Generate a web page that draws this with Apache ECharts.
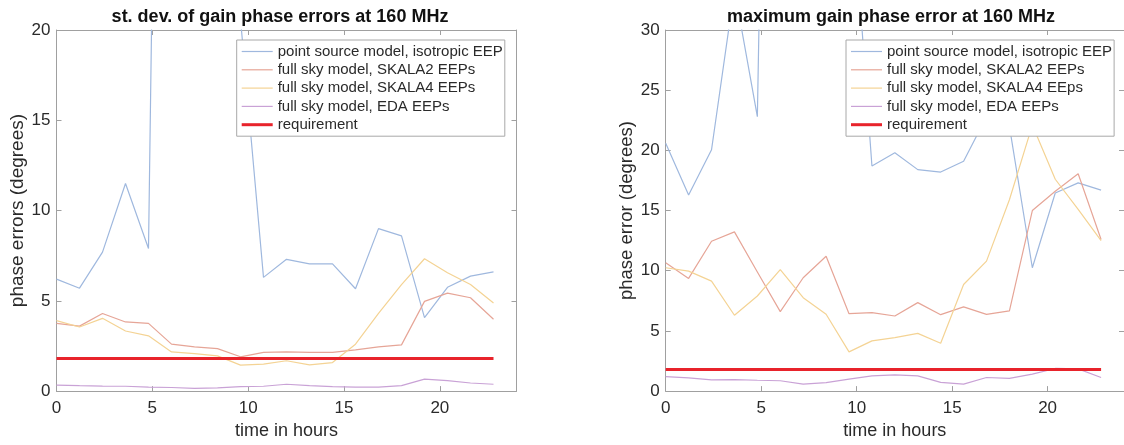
<!DOCTYPE html>
<html>
<head>
<meta charset="utf-8">
<script src="https://cdn.jsdelivr.net/npm/echarts@6/dist/echarts.min.js"></script>
<style>
  html, body { margin: 0; padding: 0; background: #ffffff; }
  #chart { width: 1124px; height: 445px; }
</style>
</head>
<body>
<div id="chart"></div>
<script>
// ---- data ----
const hours = [0, 1.2, 2.4, 3.6, 4.8, 6.0, 7.2, 8.4, 9.6, 10.8, 12.0, 13.2, 14.4, 15.6, 16.8, 18.0, 19.2, 20.4, 21.6, 22.8];

// left panel: st. dev. of gain phase errors (degrees)
const stdPointSource = [6.2, 5.7, 7.7, 11.5, 7.9, 100, 90, 70, 20.6, 6.3, 7.3, 7.05, 7.05, 5.67, 9.0, 8.6, 4.07, 5.75, 6.37, 6.6];
const stdSkala2 = [3.75, 3.6, 4.3, 3.83, 3.75, 2.6, 2.45, 2.35, 1.9, 2.14, 2.17, 2.14, 2.14, 2.28, 2.45, 2.56, 4.97, 5.43, 5.17, 3.98];
const stdSkala4 = [3.9, 3.55, 4.03, 3.33, 3.06, 2.17, 2.08, 1.95, 1.44, 1.49, 1.68, 1.45, 1.58, 2.6, 4.3, 5.9, 7.33, 6.56, 5.9, 4.88];
const stdEda = [0.33, 0.3, 0.28, 0.27, 0.22, 0.2, 0.15, 0.18, 0.25, 0.27, 0.38, 0.3, 0.25, 0.22, 0.22, 0.3, 0.66, 0.58, 0.45, 0.38];

// right panel: maximum gain phase error (degrees)
const maxPointSource = [20.6, 16.3, 20.05, 33.4, 22.8, 130, 100, 80, 45, 18.7, 19.8, 18.4, 18.2, 19.1, 22.8, 22.0, 10.25, 16.46, 17.3, 16.7];
const maxSkala2 = [10.66, 9.36, 12.45, 13.23, 9.9, 6.6, 9.42, 11.2, 6.43, 6.52, 6.24, 7.35, 6.35, 7.0, 6.38, 6.66, 15.0, 16.6, 18.06, 12.6];
const maxSkala4 = [10.25, 9.97, 9.14, 6.3, 7.9, 10.1, 7.76, 6.38, 3.26, 4.17, 4.45, 4.8, 3.98, 8.86, 10.8, 15.9, 22.1, 17.6, 15.1, 12.5];
const maxEda = [1.21, 1.1, 0.94, 0.95, 0.9, 0.86, 0.58, 0.7, 1.0, 1.27, 1.35, 1.27, 0.72, 0.58, 1.13, 1.05, 1.41, 1.88, 1.85, 1.13];

const requirementDeg = 1.8;

const leftNames = ['point source model, isotropic EEP', 'full sky model, SKALA2 EEPs', 'full sky model, SKALA4 EEPs', 'full sky model, EDA EEPs', 'requirement'];
const rightNames = ['point source model, isotropic EEP', 'full sky model, SKALA2 EEPs', 'full sky model, SKALA4 EEps', 'full sky model, EDA EEPs', 'requirement'];

const titles = ['st. dev. of gain phase errors at 160 MHz', 'maximum gain phase error at 160 MHz'];
const yNames = ['phase errors (degrees)', 'phase error (degrees)'];
const xName = 'time in hours';
const xTicks = [0, 24, 5];          // min, max, interval
const yTicksLeft = [0, 20, 5];
const yTicksRight = [0, 30, 5];

// ---- styling ----
const FONT = "'Liberation Sans', Arial, Helvetica, sans-serif";
const colors = ['#9fb8de', '#e6a597', '#f4d394', '#c9a2d6', '#e8232b'];
const axisGray = '#a0a0a0';
const textColor = '#2a2a2a';

const grids = [
  { left: 56.5, top: 30, width: 460, height: 362 },
  { left: 665.7, top: 30, width: 459, height: 362 }
];

function pairs(vals) { return hours.map((h, i) => [h, vals[i]]); }
function reqLine() { return [[hours[0], requirementDeg], [hours[hours.length - 1], requirementDeg]]; }

function xAxes(gi) {
  const base = {
    type: 'value', gridIndex: gi, min: xTicks[0], max: xTicks[1], interval: xTicks[2],
    splitLine: { show: false },
    axisLine: { show: true, onZero: false, lineStyle: { color: axisGray, width: 1 } },
    axisTick: { show: true, inside: true, length: 5, lineStyle: { color: axisGray } }
  };
  return [
    Object.assign({}, base, {
      position: 'bottom',
      name: xName, nameLocation: 'middle', nameGap: 29,
      nameTextStyle: { fontFamily: FONT, fontSize: 18, color: textColor },
      axisLabel: { show: true, fontFamily: FONT, fontSize: 17, color: textColor, margin: 9, showMaxLabel: false }
    }),
    Object.assign({}, base, { position: 'top', axisLabel: { show: false } })
  ];
}

function yAxes(gi, t) {
  const base = {
    type: 'value', gridIndex: gi, min: t[0], max: t[1], interval: t[2],
    splitLine: { show: false },
    axisLine: { show: true, onZero: false, lineStyle: { color: axisGray, width: 1 } },
    axisTick: { show: true, inside: true, length: 5, lineStyle: { color: axisGray } }
  };
  return [
    Object.assign({}, base, {
      position: 'left',
      name: yNames[gi], nameLocation: 'middle', nameGap: 27,
      nameTextStyle: { fontFamily: FONT, fontSize: gi === 0 ? 19 : 18.5, color: textColor },
      axisLabel: { show: true, fontFamily: FONT, fontSize: 17, color: textColor, margin: 6 }
    }),
    Object.assign({}, base, { position: 'right', axisLabel: { show: false } })
  ];
}

function lineSeries(name, data, gi, color, width) {
  return {
    type: 'line', name: name, data: data,
    xAxisIndex: gi * 2, yAxisIndex: gi * 2,
    symbol: 'none', showSymbol: false, clip: true,
    lineStyle: { color: color, width: width },
    itemStyle: { color: color },
    z: width > 2 ? 4 : 3,
    animation: false
  };
}

const leftSets = [stdPointSource, stdSkala2, stdSkala4, stdEda];
const rightSets = [maxPointSource, maxSkala2, maxSkala4, maxEda];

const series = [];
leftSets.forEach((s, i) => series.push(lineSeries(leftNames[i], pairs(s), 0, colors[i], 1.2)));
series.push(lineSeries(leftNames[4], reqLine(), 0, colors[4], 3));
rightSets.forEach((s, i) => series.push(lineSeries(rightNames[i], pairs(s), 1, colors[i], 1.2)));
series.push(lineSeries(rightNames[4], reqLine(), 1, colors[4], 3));

const thinIcon = 'path://M0,0H31V1.2H0Z';
const thickIcon = 'path://M0,0H31V3H0Z';

function legend(left, names) {
  return {
    orient: 'vertical', left: left, top: 40,
    data: names.map((n, i) => ({ name: n, icon: i === 4 ? thickIcon : thinIcon })),
    symbolKeepAspect: true,
    itemWidth: 31, itemHeight: 15, itemGap: 3.3,
    padding: [4, 2, 4, 5],
    backgroundColor: '#ffffff',
    borderColor: '#a8a8a8', borderWidth: 1,
    selectedMode: false,
    itemStyle: { borderWidth: 0 },
    textStyle: { fontFamily: FONT, fontSize: 15, color: textColor, lineHeight: 15 },
    z: 10
  };
}

const option = {
  animation: false,
  backgroundColor: '#ffffff',
  title: [
    { text: titles[0], left: 275, top: 3, textAlign: 'center',
      textStyle: { fontFamily: FONT, fontSize: 18, fontWeight: 'bold', color: '#111' } },
    { text: titles[1], left: 886, top: 3, textAlign: 'center',
      textStyle: { fontFamily: FONT, fontSize: 18, fontWeight: 'bold', color: '#111' } }
  ],
  grid: grids,
  xAxis: xAxes(0).concat(xAxes(1)),
  yAxis: yAxes(0, yTicksLeft).concat(yAxes(1, yTicksRight)),
  legend: [legend(236.7, leftNames), legend(846, rightNames)],
  series: series
};

const chart = echarts.init(document.getElementById('chart'), null, { renderer: 'canvas' });
chart.setOption(option);
</script>
</body>
</html>
